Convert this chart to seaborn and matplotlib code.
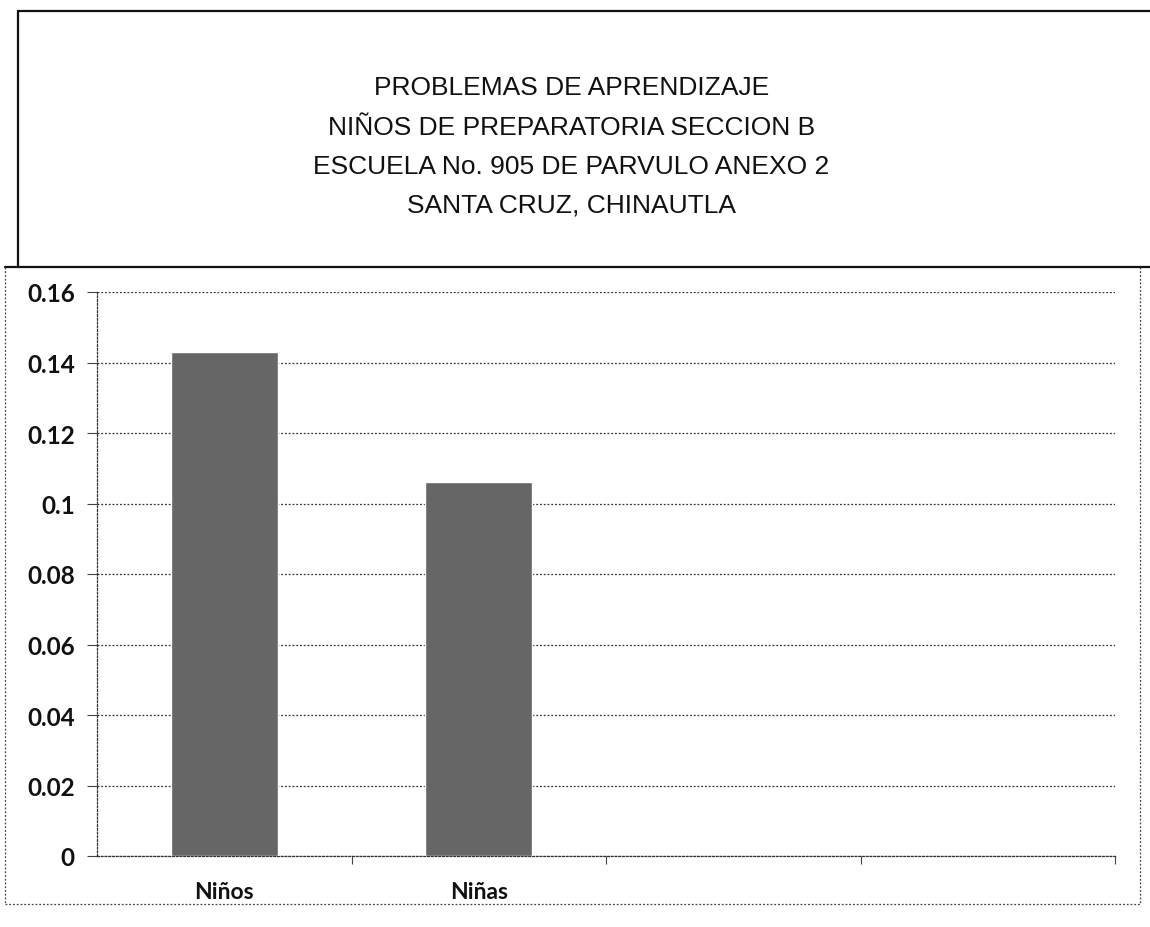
import numpy as np
import pandas as pd
from matplotlib import pyplot as plt
from matplotlib.lines import Line2D
import seaborn as sb

# data
categories = ["Niños", "Niñas", " ", "  "]
values = [0.143, 0.106, np.nan, np.nan]
y_ticks = [0, 0.02, 0.04, 0.06, 0.08, 0.1, 0.12, 0.14, 0.16]
y_labels = ["0", "0.02", "0.04", "0.06", "0.08", "0.1", "0.12", "0.14", "0.16"]
title_lines = [
    "PROBLEMAS DE APRENDIZAJE",
    "NIÑOS DE PREPARATORIA SECCION B",
    "ESCUELA No. 905 DE PARVULO ANEXO 2",
    "SANTA CRUZ, CHINAUTLA",
]

W, H = 1150, 928

def fx(px):
    return px / W

def fy(py):
    return 1 - py / H

sb.set_style("white")
plt.rcParams["font.family"] = ["Liberation Sans", "DejaVu Sans"]

fig = plt.figure(figsize=(11.5, 9.28), dpi=100)
ax = fig.add_axes([fx(97), fy(857), fx(1115) - fx(97), fy(293) - fy(857)])

df = pd.DataFrame({"cat": categories, "val": values})
sb.barplot(df, x="cat", y="val", order=categories, color="#666666",
           width=0.42, saturation=1, ax=ax, zorder=3)

ax.set_xlim(-0.5, 3.5)
ax.set_ylim(0, 0.16)
ax.set_yticks(y_ticks)
ax.set_yticklabels(y_labels, family=["Lato", "DejaVu Sans"], fontsize=17.5,
                   fontweight="bold", color="#111111")
ax.set_xticks(range(len(categories)))
ax.set_xticklabels(categories, family=["Lato", "DejaVu Sans"], fontsize=16.5,
                   fontweight="bold", color="#111111")
ax.tick_params(axis="x", length=0, pad=18)
ax.tick_params(axis="y", length=7, width=0.8, color="#444444", pad=9, left=True)
ax.set_xticks([0.5, 1.5, 2.5, 3.5], minor=True)
ax.tick_params(axis="x", which="minor", length=6, width=0.8, color="#444444", bottom=True)
ax.set_xlabel("")
ax.set_ylabel("")

ax.yaxis.grid(True, linestyle=(0, (1.5, 1.5)), linewidth=0.9, color="#333333", zorder=0)
ax.set_axisbelow(True)
for side in ["top", "right"]:
    ax.spines[side].set_visible(False)
for side in ["left", "bottom"]:
    ax.spines[side].set_linestyle((0, (1.5, 1.5)))
    ax.spines[side].set_linewidth(0.9)
    ax.spines[side].set_color("#333333")

# title box
for y, line in zip([88, 128, 167, 205], title_lines):
    fig.text(0.497, fy(y), line, ha="center", va="center", fontsize=19, color="#111111")

solid = dict(color="#111111", linewidth=1.6)
fig.add_artist(Line2D([fx(18), 1], [fy(12), fy(12)], **solid))
fig.add_artist(Line2D([fx(18), fx(18)], [fy(12), fy(268)], **solid))
fig.add_artist(Line2D([fx(5), 1], [fy(268), fy(268)], **solid))

# chart frame (dotted)
dotted = dict(color="#444444", linewidth=0.9, linestyle=(0, (1.5, 1.5)))
fig.add_artist(Line2D([fx(5), fx(5)], [fy(268), fy(905)], **dotted))
fig.add_artist(Line2D([fx(5), fx(1140)], [fy(905), fy(905)], **dotted))
fig.add_artist(Line2D([fx(1140), fx(1140)], [fy(268), fy(905)], **dotted))

fig.savefig("out.png", dpi=100)
